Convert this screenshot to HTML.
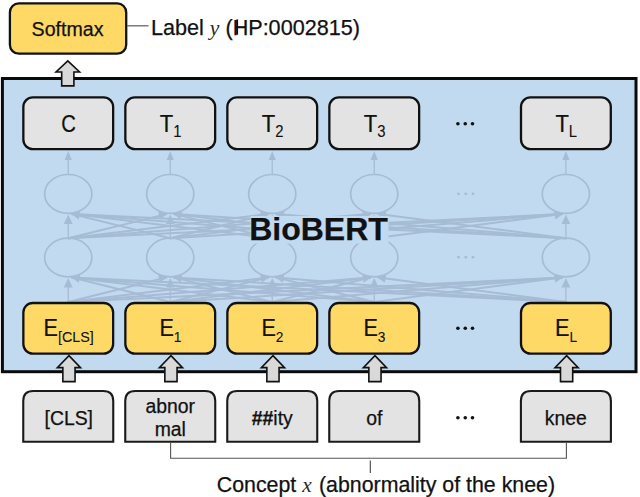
<!DOCTYPE html>
<html><head><meta charset="utf-8"><title>BioBERT</title>
<style>
html,body{margin:0;padding:0;background:#fff;}
body{width:640px;height:497px;overflow:hidden;}
svg{display:block;}
text{font-family:"Liberation Sans",sans-serif;fill:#111;stroke:#111;stroke-width:0.25px;}
.it{font-family:"Liberation Serif",serif;font-style:italic;stroke:none;fill:#2a2a2a;}
</style></head><body>
<svg width="640" height="497" viewBox="0 0 640 497">
<rect x="0" y="0" width="640" height="497" fill="#ffffff"/>
<rect x="2.4" y="78.5" width="633.6" height="293.2" fill="#C2DAF0" stroke="#0a0a0a" stroke-width="3"/>
<g stroke="#A6BCD4" fill="none" stroke-width="2.0" stroke-linecap="round">
<line x1="68.25" y1="238.2" x2="166.25" y2="214.1"/>
<line x1="68.25" y1="238.2" x2="268.25" y2="214.1"/>
<line x1="68.25" y1="238.2" x2="370.25" y2="214.1"/>
<line x1="68.25" y1="238.2" x2="561.9" y2="214.1"/>
<line x1="170.25" y1="238.2" x2="72.25" y2="214.1"/>
<line x1="170.25" y1="238.2" x2="268.25" y2="214.1"/>
<line x1="170.25" y1="238.2" x2="370.25" y2="214.1"/>
<line x1="170.25" y1="238.2" x2="561.9" y2="214.1"/>
<line x1="272.25" y1="238.2" x2="72.25" y2="214.1"/>
<line x1="272.25" y1="238.2" x2="174.25" y2="214.1"/>
<line x1="272.25" y1="238.2" x2="370.25" y2="214.1"/>
<line x1="272.25" y1="238.2" x2="561.9" y2="214.1"/>
<line x1="374.25" y1="238.2" x2="72.25" y2="214.1"/>
<line x1="374.25" y1="238.2" x2="174.25" y2="214.1"/>
<line x1="374.25" y1="238.2" x2="276.25" y2="214.1"/>
<line x1="374.25" y1="238.2" x2="561.9" y2="214.1"/>
<line x1="565.9" y1="238.2" x2="72.25" y2="214.1"/>
<line x1="565.9" y1="238.2" x2="174.25" y2="214.1"/>
<line x1="565.9" y1="238.2" x2="276.25" y2="214.1"/>
<line x1="565.9" y1="238.2" x2="378.25" y2="214.1"/>
<line x1="68.25" y1="302" x2="166.25" y2="277.5"/>
<line x1="68.25" y1="302" x2="268.25" y2="277.5"/>
<line x1="68.25" y1="302" x2="370.25" y2="277.5"/>
<line x1="68.25" y1="302" x2="561.9" y2="277.5"/>
<line x1="170.25" y1="302" x2="72.25" y2="277.5"/>
<line x1="170.25" y1="302" x2="268.25" y2="277.5"/>
<line x1="170.25" y1="302" x2="370.25" y2="277.5"/>
<line x1="170.25" y1="302" x2="561.9" y2="277.5"/>
<line x1="272.25" y1="302" x2="72.25" y2="277.5"/>
<line x1="272.25" y1="302" x2="174.25" y2="277.5"/>
<line x1="272.25" y1="302" x2="370.25" y2="277.5"/>
<line x1="272.25" y1="302" x2="561.9" y2="277.5"/>
<line x1="374.25" y1="302" x2="72.25" y2="277.5"/>
<line x1="374.25" y1="302" x2="174.25" y2="277.5"/>
<line x1="374.25" y1="302" x2="276.25" y2="277.5"/>
<line x1="374.25" y1="302" x2="561.9" y2="277.5"/>
<line x1="565.9" y1="302" x2="72.25" y2="277.5"/>
<line x1="565.9" y1="302" x2="174.25" y2="277.5"/>
<line x1="565.9" y1="302" x2="276.25" y2="277.5"/>
<line x1="565.9" y1="302" x2="378.25" y2="277.5"/>
</g>
<g fill="#A6BCD4" stroke="none">
<path d="M71.25 213.9 L80.25 211.70000000000002 L78.75 219.4 Z"/>
<path d="M173.25 213.9 L182.25 211.70000000000002 L180.75 219.4 Z"/>
<path d="M167.25 213.9 L158.25 211.70000000000002 L159.75 219.4 Z"/>
<path d="M275.25 213.9 L284.25 211.70000000000002 L282.75 219.4 Z"/>
<path d="M269.25 213.9 L260.25 211.70000000000002 L261.75 219.4 Z"/>
<path d="M377.25 213.9 L386.25 211.70000000000002 L384.75 219.4 Z"/>
<path d="M371.25 213.9 L362.25 211.70000000000002 L363.75 219.4 Z"/>
<path d="M562.9 213.9 L553.9 211.70000000000002 L555.4 219.4 Z"/>
<path d="M71.25 277.3 L80.25 275.1 L78.75 282.8 Z"/>
<path d="M173.25 277.3 L182.25 275.1 L180.75 282.8 Z"/>
<path d="M167.25 277.3 L158.25 275.1 L159.75 282.8 Z"/>
<path d="M275.25 277.3 L284.25 275.1 L282.75 282.8 Z"/>
<path d="M269.25 277.3 L260.25 275.1 L261.75 282.8 Z"/>
<path d="M377.25 277.3 L386.25 275.1 L384.75 282.8 Z"/>
<path d="M371.25 277.3 L362.25 275.1 L363.75 282.8 Z"/>
<path d="M562.9 277.3 L553.9 275.1 L555.4 282.8 Z"/>
</g>
<g stroke="#A6BCD4" stroke-width="1.3" fill="#A6BCD4">
<line x1="68.25" y1="302" x2="68.25" y2="286"/>
<path d="M68.25 278 L63.85 287.5 L72.65 287.5 Z" stroke="none"/>
<line x1="68.25" y1="238" x2="68.25" y2="223"/>
<path d="M68.25 214.5 L63.85 224 L72.65 224 Z" stroke="none"/>
<line x1="68.25" y1="174.5" x2="68.25" y2="159"/>
<path d="M68.25 151 L64.65 160 L71.85 160 Z" stroke="none"/>
<line x1="170.25" y1="302" x2="170.25" y2="286"/>
<path d="M170.25 278 L165.85 287.5 L174.65 287.5 Z" stroke="none"/>
<line x1="170.25" y1="238" x2="170.25" y2="223"/>
<path d="M170.25 214.5 L165.85 224 L174.65 224 Z" stroke="none"/>
<line x1="170.25" y1="174.5" x2="170.25" y2="159"/>
<path d="M170.25 151 L166.65 160 L173.85 160 Z" stroke="none"/>
<line x1="272.25" y1="302" x2="272.25" y2="286"/>
<path d="M272.25 278 L267.85 287.5 L276.65 287.5 Z" stroke="none"/>
<line x1="272.25" y1="238" x2="272.25" y2="223"/>
<path d="M272.25 214.5 L267.85 224 L276.65 224 Z" stroke="none"/>
<line x1="272.25" y1="174.5" x2="272.25" y2="159"/>
<path d="M272.25 151 L268.65 160 L275.85 160 Z" stroke="none"/>
<line x1="374.25" y1="302" x2="374.25" y2="286"/>
<path d="M374.25 278 L369.85 287.5 L378.65 287.5 Z" stroke="none"/>
<line x1="374.25" y1="238" x2="374.25" y2="223"/>
<path d="M374.25 214.5 L369.85 224 L378.65 224 Z" stroke="none"/>
<line x1="374.25" y1="174.5" x2="374.25" y2="159"/>
<path d="M374.25 151 L370.65 160 L377.85 160 Z" stroke="none"/>
<line x1="565.9" y1="302" x2="565.9" y2="286"/>
<path d="M565.9 278 L561.5 287.5 L570.3 287.5 Z" stroke="none"/>
<line x1="565.9" y1="238" x2="565.9" y2="223"/>
<path d="M565.9 214.5 L561.5 224 L570.3 224 Z" stroke="none"/>
<line x1="565.9" y1="174.5" x2="565.9" y2="159"/>
<path d="M565.9 151 L562.3 160 L569.5 160 Z" stroke="none"/>
</g>
<g stroke="#A6BCD4" stroke-width="1.7" fill="#C2DAF0">
<ellipse cx="68.25" cy="193.9" rx="23.6" ry="19.4" fill="none"/>
<ellipse cx="68.25" cy="257.5" rx="23.6" ry="19.3" fill="none"/>
<ellipse cx="170.25" cy="193.9" rx="23.6" ry="19.4" fill="none"/>
<ellipse cx="170.25" cy="257.5" rx="23.6" ry="19.3" fill="none"/>
<ellipse cx="272.25" cy="193.9" rx="23.6" ry="19.4" fill="none"/>
<ellipse cx="272.25" cy="257.5" rx="23.6" ry="19.3" fill="none"/>
<ellipse cx="374.25" cy="193.9" rx="23.6" ry="19.4" fill="none"/>
<ellipse cx="374.25" cy="257.5" rx="23.6" ry="19.3" fill="none"/>
<ellipse cx="565.9" cy="193.9" rx="23.6" ry="19.4" fill="none"/>
<ellipse cx="565.9" cy="257.5" rx="23.6" ry="19.3" fill="none"/>
</g>
<g fill="#A6BCD4">
<circle cx="458.5" cy="193.8" r="1.4"/>
<circle cx="465.8" cy="193.8" r="1.4"/>
<circle cx="473" cy="193.8" r="1.4"/>
<circle cx="458.5" cy="257.2" r="1.4"/>
<circle cx="465.8" cy="257.2" r="1.4"/>
<circle cx="473" cy="257.2" r="1.4"/>
</g>
<rect x="250.5" y="216" width="138" height="27.6" fill="#C2DAF0"/>
<text x="249.2" y="240" font-size="32" font-weight="bold" fill="#000" stroke="none">BioBERT</text>
<rect x="23.35" y="97.3" width="89.8" height="51.8" rx="9.5" ry="9.5" fill="#E3E3E3" stroke="#111" stroke-width="2.3"/>
<rect x="23.35" y="303" width="89.8" height="50.6" rx="9.5" ry="9.5" fill="#FFD966" stroke="#111" stroke-width="2.3"/>
<path d="M23.25 441.8 L23.25 401.0 Q23.25 391.0 33.25 391.0 L103.25 391.0 Q113.25 391.0 113.25 401.0 L113.25 441.8 Z" fill="#E3E3E3" stroke="#1a1a1a" stroke-width="2.1" stroke-linejoin="miter"/>
<rect x="125.35" y="97.3" width="89.8" height="51.8" rx="9.5" ry="9.5" fill="#E3E3E3" stroke="#111" stroke-width="2.3"/>
<rect x="125.35" y="303" width="89.8" height="50.6" rx="9.5" ry="9.5" fill="#FFD966" stroke="#111" stroke-width="2.3"/>
<path d="M125.25 441.8 L125.25 401.0 Q125.25 391.0 135.25 391.0 L205.25 391.0 Q215.25 391.0 215.25 401.0 L215.25 441.8 Z" fill="#E3E3E3" stroke="#1a1a1a" stroke-width="2.1" stroke-linejoin="miter"/>
<rect x="227.35" y="97.3" width="89.8" height="51.8" rx="9.5" ry="9.5" fill="#E3E3E3" stroke="#111" stroke-width="2.3"/>
<rect x="227.35" y="303" width="89.8" height="50.6" rx="9.5" ry="9.5" fill="#FFD966" stroke="#111" stroke-width="2.3"/>
<path d="M227.25 441.8 L227.25 401.0 Q227.25 391.0 237.25 391.0 L307.25 391.0 Q317.25 391.0 317.25 401.0 L317.25 441.8 Z" fill="#E3E3E3" stroke="#1a1a1a" stroke-width="2.1" stroke-linejoin="miter"/>
<rect x="329.35" y="97.3" width="89.8" height="51.8" rx="9.5" ry="9.5" fill="#E3E3E3" stroke="#111" stroke-width="2.3"/>
<rect x="329.35" y="303" width="89.8" height="50.6" rx="9.5" ry="9.5" fill="#FFD966" stroke="#111" stroke-width="2.3"/>
<path d="M329.25 441.8 L329.25 401.0 Q329.25 391.0 339.25 391.0 L409.25 391.0 Q419.25 391.0 419.25 401.0 L419.25 441.8 Z" fill="#E3E3E3" stroke="#1a1a1a" stroke-width="2.1" stroke-linejoin="miter"/>
<rect x="521.0" y="97.3" width="89.8" height="51.8" rx="9.5" ry="9.5" fill="#E3E3E3" stroke="#111" stroke-width="2.3"/>
<rect x="521.0" y="303" width="89.8" height="50.6" rx="9.5" ry="9.5" fill="#FFD966" stroke="#111" stroke-width="2.3"/>
<path d="M520.9 441.8 L520.9 401.0 Q520.9 391.0 530.9 391.0 L600.9 391.0 Q610.9 391.0 610.9 401.0 L610.9 441.8 Z" fill="#E3E3E3" stroke="#1a1a1a" stroke-width="2.1" stroke-linejoin="miter"/>
<rect x="9.9" y="3.4" width="116.3" height="50.3" rx="9" ry="9" fill="#FFD966" stroke="#111" stroke-width="2.3"/>
<line x1="127" y1="25.8" x2="148.5" y2="25.8" stroke="#666" stroke-width="1.3"/>
<path d="M67.8 60.8 L79.6 72 L73.89999999999999 72 L73.89999999999999 85.9 L61.699999999999996 85.9 L61.699999999999996 72 L56.0 72 Z" fill="#D9D9D9" stroke="#111" stroke-width="1.6" stroke-linejoin="miter"/>
<path d="M68.95 355.6 L80.55 367.6 L75.05 367.6 L75.05 381.6 L62.85 381.6 L62.85 367.6 L57.35 367.6 Z" fill="#D9D9D9" stroke="#111" stroke-width="1.6" stroke-linejoin="miter"/>
<path d="M170.95 355.6 L182.54999999999998 367.6 L177.04999999999998 367.6 L177.04999999999998 381.6 L164.85 381.6 L164.85 367.6 L159.35 367.6 Z" fill="#D9D9D9" stroke="#111" stroke-width="1.6" stroke-linejoin="miter"/>
<path d="M272.95 355.6 L284.55 367.6 L279.05 367.6 L279.05 381.6 L266.84999999999997 381.6 L266.84999999999997 367.6 L261.34999999999997 367.6 Z" fill="#D9D9D9" stroke="#111" stroke-width="1.6" stroke-linejoin="miter"/>
<path d="M374.95 355.6 L386.55 367.6 L381.05 367.6 L381.05 381.6 L368.84999999999997 381.6 L368.84999999999997 367.6 L363.34999999999997 367.6 Z" fill="#D9D9D9" stroke="#111" stroke-width="1.6" stroke-linejoin="miter"/>
<path d="M566.6 355.6 L578.2 367.6 L572.7 367.6 L572.7 381.6 L560.5 381.6 L560.5 367.6 L555.0 367.6 Z" fill="#D9D9D9" stroke="#111" stroke-width="1.6" stroke-linejoin="miter"/>
<circle cx="457.9" cy="123.75" r="1.8" fill="#111"/>
<circle cx="465.25" cy="123.75" r="1.8" fill="#111"/>
<circle cx="472.5" cy="123.75" r="1.8" fill="#111"/>
<circle cx="457.9" cy="328.25" r="1.8" fill="#111"/>
<circle cx="465.25" cy="328.25" r="1.8" fill="#111"/>
<circle cx="472.5" cy="328.25" r="1.8" fill="#111"/>
<circle cx="457.9" cy="417.75" r="1.8" fill="#111"/>
<circle cx="465.25" cy="417.75" r="1.8" fill="#111"/>
<circle cx="472.5" cy="417.75" r="1.8" fill="#111"/>
<text transform="translate(68.65 132.0) scale(0.85 1)" font-size="23.8" text-anchor="middle">C</text>
<text transform="translate(170.65 132.0) scale(0.94 1)" font-size="23.4" text-anchor="middle">T<tspan font-size="15.8" dy="4.9" stroke-width="0.1">1</tspan></text>
<text transform="translate(272.65 132.0) scale(0.94 1)" font-size="23.4" text-anchor="middle">T<tspan font-size="15.8" dy="4.9" stroke-width="0.1">2</tspan></text>
<text transform="translate(374.65 132.0) scale(0.94 1)" font-size="23.4" text-anchor="middle">T<tspan font-size="15.8" dy="4.9" stroke-width="0.1">3</tspan></text>
<text transform="translate(566.3 132.0) scale(0.94 1)" font-size="23.4" text-anchor="middle">T<tspan font-size="15.8" dy="4.9" stroke-width="0.1">L</tspan></text>
<text transform="translate(43.5 336.3) scale(0.94 1)" font-size="23">E<tspan font-size="15.2" dy="5.5" stroke-width="0.1">[CLS]</tspan></text>
<text transform="translate(170.45 336.3) scale(0.94 1)" font-size="23" text-anchor="middle">E<tspan font-size="14.6" dy="5.3" stroke-width="0.1">1</tspan></text>
<text transform="translate(272.45 336.3) scale(0.94 1)" font-size="23" text-anchor="middle">E<tspan font-size="14.6" dy="5.3" stroke-width="0.1">2</tspan></text>
<text transform="translate(374.45 336.3) scale(0.94 1)" font-size="23" text-anchor="middle">E<tspan font-size="14.6" dy="5.3" stroke-width="0.1">3</tspan></text>
<text transform="translate(566.1 336.3) scale(0.94 1)" font-size="23" text-anchor="middle">E<tspan font-size="14.6" dy="5.3" stroke-width="0.1">L</tspan></text>
<text x="68.75" y="425" font-size="19.4" text-anchor="middle">[CLS]</text>
<text x="170.25" y="412.6" font-size="19.4" text-anchor="middle">abnor</text>
<text x="170.25" y="436.2" font-size="19.4" text-anchor="middle">mal</text>
<text x="272.25" y="425" font-size="19.4" text-anchor="middle"><tspan font-weight="bold">##</tspan>ity</text>
<text x="374.25" y="425" font-size="19.4" text-anchor="middle">of</text>
<text x="565.9" y="425" font-size="19.4" text-anchor="middle">knee</text>
<text x="31.6" y="36.2" font-size="19.6">Softmax</text>
<text x="151" y="34.7" font-size="21.6">Label <tspan class="it">y</tspan> (HP:0002815)</text>
<rect x="236.2" y="19.5" width="1.9" height="15.2" fill="#111"/>
<path d="M170.6 442.8 L170.6 458.3 L566.4 458.3 L566.4 442.8" fill="none" stroke="#555" stroke-width="1.1"/>
<line x1="370.3" y1="460.5" x2="370.3" y2="473" stroke="#444" stroke-width="1.1"/>
<text x="216.8" y="491.9" font-size="21.35">Concept <tspan class="it">x</tspan><tspan dx="1.3"> </tspan>(abnormality of the knee)</text>
</svg>
</body></html>
